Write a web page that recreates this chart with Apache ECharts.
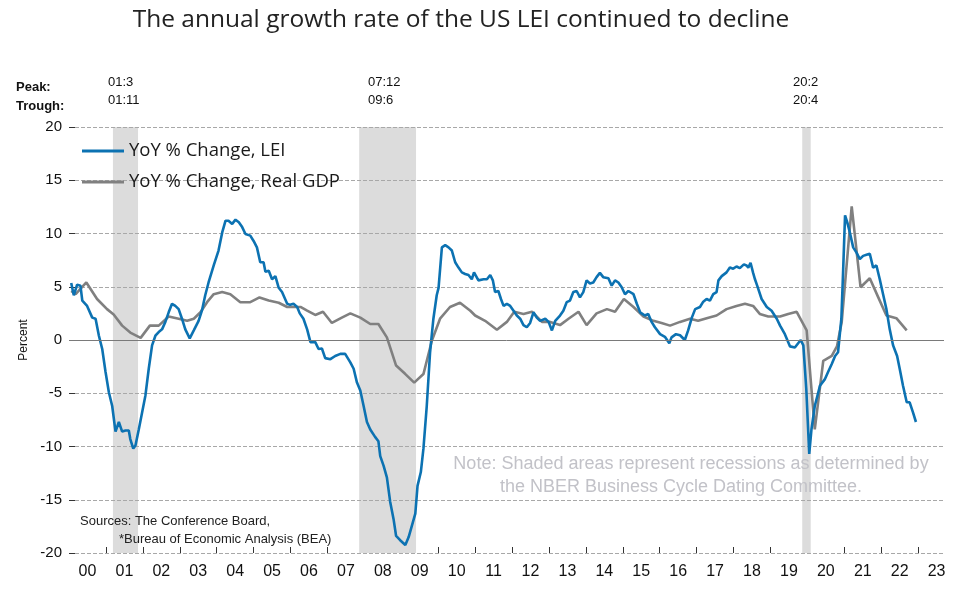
<!DOCTYPE html>
<html><head><meta charset="utf-8">
<script src="https://cdn.jsdelivr.net/npm/echarts@6/dist/echarts.min.js"></script>
<style>html,body{margin:0;padding:0;background:#fff}#c{width:963px;height:589px}</style>
</head><body><div id="c"></div>
<script>
// ---- data (decimal year, percent) ----
const yearTicks = [2001,2002,2003,2004,2005,2006,2007,2008,2009,2010,2011,2012,2013,2014,2015,2016,2017,2018,2019,2020,2021,2022,2023];
const yearLabels = ['00','01','02','03','04','05','06','07','08','09','10','11','12','13','14','15','16','17','18','19','20','21','22','23'];
const yTicks = [-20,-15,-10,-5,0,5,10,15,20];

const leiYoY = [
[2000.06,5.35],[2000.13,4.2],[2000.22,5.2],[2000.31,5.1],[2000.36,3.7],[2000.49,3.2],[2000.63,2.1],[2000.72,2.0],[2000.81,0.4],[2000.90,-0.85],
[2000.99,-3.0],[2001.08,-4.9],[2001.17,-6.2],[2001.26,-8.6],[2001.35,-7.7],[2001.44,-8.6],[2001.53,-8.5],[2001.62,-8.5],[2001.66,-9.3],[2001.74,-10.2],
[2001.80,-9.9],[2001.89,-8.4],[2001.98,-6.8],[2002.07,-5.2],[2002.16,-2.7],[2002.25,-0.5],[2002.34,0.4],[2002.43,0.75],[2002.52,1.0],[2002.61,1.7],
[2002.70,2.6],[2002.79,3.4],[2002.88,3.2],[2002.97,2.9],[2003.06,2.0],[2003.15,1.0],[2003.27,0.15],[2003.38,0.9],[2003.51,1.8],[2003.60,2.75],
[2003.69,4.2],[2003.78,5.4],[2003.92,7.0],[2004.05,8.4],[2004.15,10.1],[2004.24,11.2],[2004.32,11.2],[2004.42,10.9],[2004.51,11.3],[2004.60,11.05],
[2004.69,10.6],[2004.78,9.95],[2004.91,9.8],[2005.00,9.3],[2005.09,8.7],[2005.18,7.3],[2005.27,7.3],[2005.32,6.4],[2005.41,6.5],[2005.50,5.7],
[2005.59,6.0],[2005.68,4.9],[2005.77,4.5],[2005.91,3.4],[2005.99,3.3],[2006.08,3.4],[2006.18,3.1],[2006.25,2.5],[2006.35,2.0],[2006.45,1.0],
[2006.54,-0.2],[2006.67,-0.2],[2006.76,-0.85],[2006.85,-0.8],[2006.94,-1.7],[2007.08,-1.8],[2007.21,-1.5],[2007.35,-1.3],[2007.48,-1.3],[2007.62,-2.1],
[2007.71,-2.7],[2007.80,-4.0],[2007.89,-4.75],[2007.98,-6.2],[2008.07,-7.7],[2008.16,-8.4],[2008.29,-9.1],[2008.38,-9.5],[2008.43,-10.9],[2008.52,-11.8],
[2008.61,-12.9],[2008.70,-15.2],[2008.79,-16.8],[2008.86,-18.4],[2008.97,-18.8],[2009.11,-19.25],[2009.20,-18.5],[2009.29,-17.4],[2009.38,-16.3],[2009.44,-13.7],
[2009.53,-12.4],[2009.60,-10.2],[2009.69,-6.2],[2009.78,-1.15],[2009.87,2.0],[2009.96,4.2],[2010.01,4.9],[2010.10,8.7],[2010.19,8.9],[2010.28,8.7],
[2010.37,8.4],[2010.46,7.3],[2010.55,6.8],[2010.64,6.35],[2010.73,6.2],[2010.82,6.1],[2010.91,5.7],[2010.97,6.35],[2011.09,5.6],[2011.23,5.7],
[2011.32,5.7],[2011.41,6.1],[2011.48,5.6],[2011.54,4.5],[2011.63,4.6],[2011.70,3.85],[2011.77,3.2],[2011.86,3.4],[2011.95,3.2],[2012.04,2.75],
[2012.13,2.3],[2012.22,2.0],[2012.31,1.4],[2012.40,1.2],[2012.49,1.6],[2012.58,2.6],[2012.67,2.1],[2012.76,1.8],[2012.90,2.0],[2012.99,1.7],
[2013.08,0.9],[2013.17,1.8],[2013.30,2.3],[2013.39,2.75],[2013.48,3.55],[2013.57,3.7],[2013.66,4.5],[2013.75,4.6],[2013.84,4.0],[2013.93,4.5],
[2014.02,5.6],[2014.11,5.3],[2014.20,5.4],[2014.29,5.9],[2014.38,6.3],[2014.47,5.9],[2014.61,5.8],[2014.70,5.1],[2014.79,5.6],[2014.88,5.4],
[2014.97,4.95],[2015.06,4.3],[2015.15,4.6],[2015.29,4.3],[2015.38,3.4],[2015.47,2.6],[2015.60,2.3],[2015.69,2.45],[2015.78,1.7],[2015.87,1.2],
[2016.01,0.55],[2016.14,0.3],[2016.26,-0.3],[2016.32,0.25],[2016.44,0.55],[2016.55,0.45],[2016.68,0.0],[2016.77,0.9],[2016.87,2.1],[2016.96,2.9],
[2017.09,3.1],[2017.18,3.6],[2017.27,3.85],[2017.36,3.7],[2017.45,4.3],[2017.54,4.5],[2017.59,5.6],[2017.68,6.0],[2017.81,6.35],[2017.90,6.8],
[2017.99,6.7],[2018.08,6.9],[2018.17,6.75],[2018.28,7.1],[2018.35,7.0],[2018.40,6.8],[2018.46,7.25],[2018.53,6.3],[2018.58,5.7],[2018.64,5.1],
[2018.76,3.85],[2018.90,3.1],[2019.03,2.75],[2019.17,2.0],[2019.26,1.35],[2019.39,0.55],[2019.53,-0.6],[2019.66,-0.7],[2019.75,-0.3],[2019.82,0.0],
[2019.89,-0.5],[2019.97,-4.6],[2020.05,-10.7],[2020.11,-8.4],[2020.20,-6.2],[2020.34,-4.3],[2020.47,-3.7],[2020.56,-3.0],[2020.66,-2.25],[2020.75,-1.5],
[2020.83,-1.15],[2020.88,-1.15],[2020.92,2.0],[2020.97,6.7],[2021.02,11.7],[2021.08,11.05],[2021.15,10.1],[2021.24,8.7],[2021.33,8.2],[2021.42,7.6],
[2021.51,7.9],[2021.60,8.0],[2021.69,8.1],[2021.78,6.8],[2021.87,7.0],[2021.96,5.7],[2022.05,4.3],[2022.14,2.9],[2022.23,1.0],[2022.32,-0.5],
[2022.43,-1.5],[2022.50,-2.7],[2022.59,-4.3],[2022.69,-5.85],[2022.77,-5.85],[2022.86,-6.8],[2022.94,-7.7]
];

const gdpYoY = [
[2000.06,4.6],[2000.18,4.3],[2000.47,5.4],[2000.76,3.85],[2001.03,2.9],[2001.21,2.4],[2001.44,1.35],[2001.66,0.7],[2001.94,0.2],[2002.19,1.35],
[2002.43,1.35],[2002.70,2.2],[2002.97,2.0],[2003.20,1.8],[2003.38,2.0],[2003.56,2.6],[2003.74,3.55],[2003.92,4.3],[2004.15,4.5],[2004.37,4.3],
[2004.64,3.55],[2004.91,3.55],[2005.16,4.0],[2005.41,3.7],[2005.68,3.5],[2005.91,3.1],[2006.27,3.1],[2006.45,2.75],[2006.67,2.35],[2006.88,2.65],
[2007.12,1.6],[2007.39,2.1],[2007.62,2.5],[2007.89,2.1],[2008.16,1.5],[2008.38,1.5],[2008.61,0.25],[2008.86,-2.4],[2009.11,-3.2],[2009.35,-4.0],
[2009.60,-3.2],[2009.83,-0.05],[2010.05,2.0],[2010.32,3.1],[2010.59,3.5],[2010.87,2.75],[2011.00,2.3],[2011.27,1.8],[2011.59,0.97],[2011.86,1.7],
[2012.06,2.65],[2012.31,2.45],[2012.54,2.65],[2012.81,1.7],[2013.03,1.7],[2013.30,1.4],[2013.53,2.0],[2013.80,2.65],[2014.02,1.4],[2014.29,2.5],
[2014.57,2.9],[2014.79,2.65],[2015.03,3.85],[2015.29,3.1],[2015.56,2.2],[2015.83,1.8],[2016.05,1.6],[2016.28,1.35],[2016.55,1.7],[2016.82,2.0],
[2017.04,1.8],[2017.32,2.1],[2017.54,2.3],[2017.81,2.9],[2018.08,3.2],[2018.31,3.4],[2018.53,3.2],[2018.71,2.45],[2018.94,2.2],[2019.26,2.2],
[2019.48,2.45],[2019.71,2.65],[2019.98,0.9],[2020.20,-8.4],[2020.43,-1.95],[2020.66,-1.5],[2020.80,-0.6],[2020.93,1.7],[2021.20,12.55],[2021.44,4.95],
[2021.69,5.8],[2021.92,4.0],[2022.14,2.3],[2022.41,2.05],[2022.69,0.9]
];

// recessions (NBER), positioned as drawn in the picture
const recessionStart = [2001.19, 2007.86, 2019.86];
const recessionEnd   = [2001.87, 2009.40, 2020.09];
const peakLabels   = ['01:3', '07:12', '20:2'];
const troughLabels = ['01:11', '09:6', '20:4'];

const seriesNames = ['YoY % Change, LEI', 'YoY % Change, Real GDP'];

// ---- chart ----
const chart = echarts.init(document.getElementById('c'), null, {renderer: 'canvas'});
const labelVals = yearLabels.map((_, i) => 2000.5 + i);
const areas = recessionStart.map((s, i) => [{xAxis: s}, {xAxis: recessionEnd[i]}]);

const small = '13px "Liberation Sans", Arial, sans-serif';
const bold = 'bold 13px "Liberation Sans", Arial, sans-serif';
const src = '13px "Liberation Sans Narrow", "Liberation Sans", Arial, sans-serif';
const note = '18px "Liberation Sans", Arial, sans-serif';
const graphics = [
  {type:'text', z: 20, left: 16, top: 81, style:{text:'Peak:', font: bold, fill:'#111'}},
  {type:'text', z: 20, left: 16, top: 100, style:{text:'Trough:', font: bold, fill:'#111'}},
  {type:'text', z: 20, left: 108, top: 76, style:{text: peakLabels[0], font: small, fill:'#111'}},
  {type:'text', z: 20, left: 108, top: 94, style:{text: troughLabels[0], font: small, fill:'#111'}},
  {type:'text', z: 20, left: 368, top: 76, style:{text: peakLabels[1], font: small, fill:'#111'}},
  {type:'text', z: 20, left: 368, top: 94, style:{text: troughLabels[1], font: small, fill:'#111'}},
  {type:'text', z: 20, left: 793, top: 76, style:{text: peakLabels[2], font: small, fill:'#111'}},
  {type:'text', z: 20, left: 793, top: 94, style:{text: troughLabels[2], font: small, fill:'#111'}},
  {type:'text', z: 20, left: 80, top: 515, style:{text:'Sources: The Conference Board,', font: src, fill:'#222'}},
  {type:'text', z: 20, left: 119, top: 533, style:{text:'*Bureau of Economic Analysis (BEA)', font: src, fill:'#222'}},
  {type:'text', z: 20, x: 691, y: 464, style:{text:'Note: Shaded areas represent recessions as determined by', font: note, fill:'#c2c2c8', align:'center', verticalAlign:'middle'}},
  {type:'text', z: 20, x: 681, y: 487, style:{text:'the NBER Business Cycle Dating Committee.', font: note, fill:'#c2c2c8', align:'center', verticalAlign:'middle'}}
];

chart.setOption({
  animation: false,
  backgroundColor: '#fff',
  title: {
    text: 'The annual growth rate of the US LEI continued to decline',
    left: 456, top: 0, textAlign: 'center',
    textStyle: {fontFamily: '"Open Sans", sans-serif', fontSize: 24.5, fontWeight: 'normal', color: '#222', lineHeight: 30}
  },
  legend: {
    orient: 'vertical', left: 82, top: 141, itemGap: 11, padding: 0,
    itemWidth: 42, itemHeight: 3, icon: 'rect',
    textStyle: {fontFamily: '"Open Sans", sans-serif', fontSize: 18.5, color: '#1a1a1a', lineHeight: 20},
    data: seriesNames
  },
  grid: {left: 69, right: 19, top: 127, bottom: 36, containLabel: false},
  xAxis: {
    type: 'value', min: 2000, max: 2023.7,
    axisLine: {show: true, onZero: false, lineStyle: {opacity: 0}},
    splitLine: {show: false},
    axisTick: {show: true, inside: true, length: 6, lineStyle: {color: '#333', width: 1}, customValues: yearTicks},
    axisLabel: {
      customValues: labelVals,
      formatter: v => yearLabels[Math.round(v - 2000.5)],
      fontFamily: '"Liberation Sans Narrow", "Liberation Sans", sans-serif', fontSize: 16, color: '#111', margin: 11
    }
  },
  yAxis: {
    type: 'value', min: -20, max: 20, interval: 5, z: 2,
    name: 'Percent', nameLocation: 'middle', nameRotate: 90, nameGap: 35,
    nameTextStyle: {fontFamily: '"Liberation Sans", Arial, sans-serif', fontSize: 12, color: '#111'},
    axisLine: {show: true, onZero: false, lineStyle: {opacity: 0}},
    axisTick: {show: true, inside: true, length: 6, lineStyle: {color: '#333'}, customValues: yTicks},
    axisLabel: {fontFamily: '"Liberation Sans", Arial, sans-serif', fontSize: 15, color: '#111', margin: 7, customValues: yTicks},
    splitLine: {show: true, lineStyle: {color: '#a8a8a8', type: [4, 2], width: 1}}
  },
  graphic: graphics,
  series: [
    {
      name: 'recessions', type: 'line', data: [], z: 1, silent: true,
      markArea: {silent: true, z: 1, itemStyle: {color: '#dcdcdc'}, data: areas}
    },
    {
      name: seriesNames[1], type: 'line', data: gdpYoY, showSymbol: false, symbol: 'none',
      color: '#808080', lineStyle: {width: 2.6, color: '#808080'}, z: 3,
      markLine: {silent: true, symbol: 'none', label: {show: false}, lineStyle: {color: '#7a7a7a', type: 'solid', width: 1}, data: [{yAxis: 0}]}
    },
    {
      name: seriesNames[0], type: 'line', data: leiYoY, showSymbol: false, symbol: 'none',
      color: '#0c72b2', lineStyle: {width: 2.6, color: '#0c72b2'}, z: 4
    }
  ]
});
</script>
</body></html>
